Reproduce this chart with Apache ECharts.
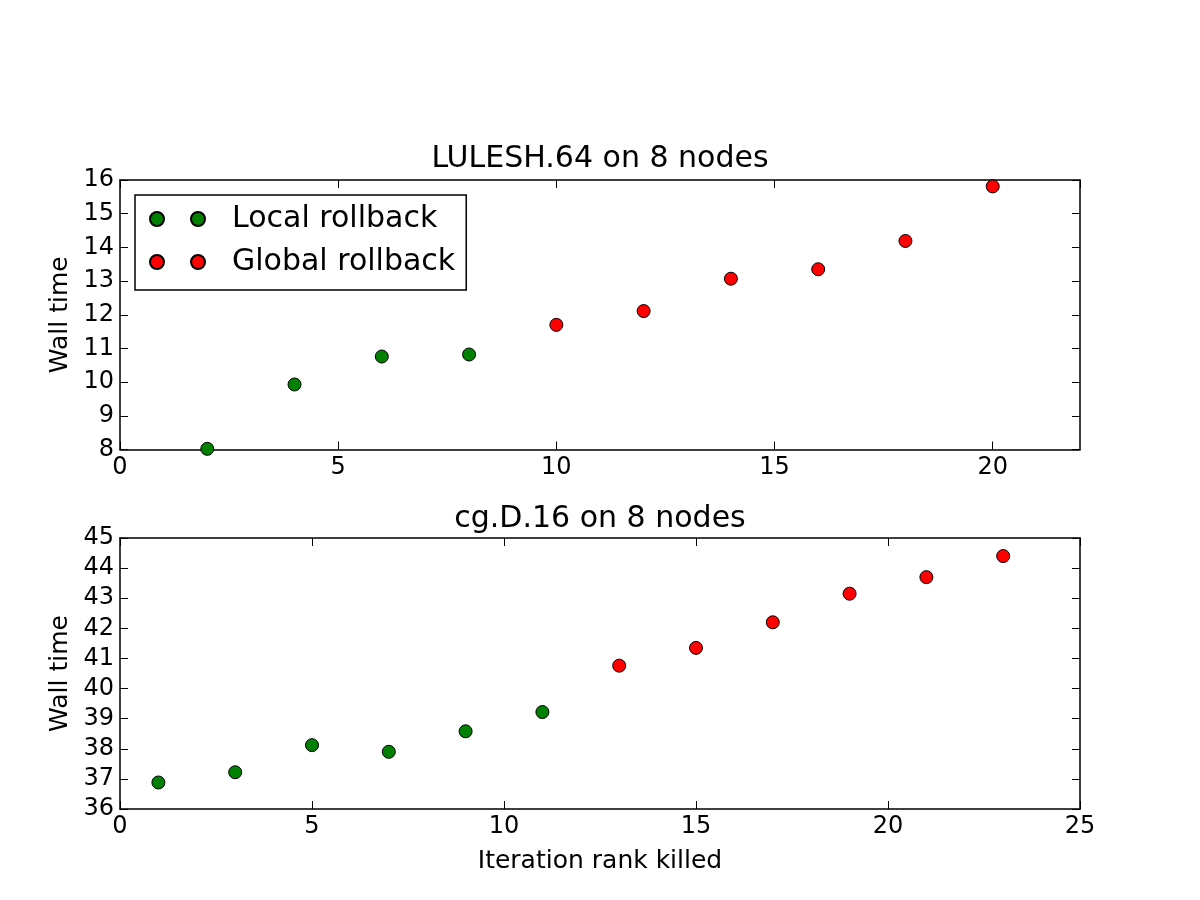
<!DOCTYPE html>
<html>
<head>
<meta charset="utf-8">
<script src="https://cdn.jsdelivr.net/npm/echarts@6/dist/echarts.min.js"></script>
<style>
  html, body { margin: 0; padding: 0; background: #fff; }
  #chart { width: 1200px; height: 900px; }
</style>
</head>
<body>
<div id="chart"></div>
<script>
// LULESH.64 on 8 nodes
var luleshLocalRank = [2, 4, 6, 8]
var luleshLocalTime = [8.02, 9.93, 10.76, 10.82]
var luleshGlobalRank = [10, 12, 14, 16, 18, 20]
var luleshGlobalTime = [11.70, 12.11, 13.07, 13.35, 14.19, 15.81]

// cg.D.16 on 8 nodes
var cgLocalRank = [1, 3, 5, 7, 9, 11]
var cgLocalTime = [36.88, 37.22, 38.12, 37.90, 38.58, 39.22]
var cgGlobalRank = [13, 15, 17, 19, 21, 23]
var cgGlobalTime = [40.76, 41.35, 42.20, 43.15, 43.70, 44.40]

var font = 'DejaVu Sans'

function pairs(xs, ys) {
  return xs.map(function (x, i) { return [x, ys[i]] })
}

function axis(opts, showLabel) {
  return Object.assign({
    type: 'value',
    axisLine: { show: true, onZero: false, lineStyle: { color: '#000', width: 1.5 } },
    axisTick: { show: true, inside: true, length: 8, lineStyle: { color: '#000', width: 1 } },
    axisLabel: { show: showLabel, color: '#000', fontFamily: font, fontSize: 24, margin: 6 },
    splitLine: { show: false }
  }, opts)
}

function scatter(name, xi, yi, data, color) {
  return {
    name: name,
    type: 'scatter',
    xAxisIndex: xi,
    yAxisIndex: yi,
    data: data,
    symbolSize: 13,
    itemStyle: { color: color, borderColor: '#000', borderWidth: 1, opacity: 1 },
    z: 5
  }
}

var nameStyle = { fontFamily: font, fontSize: 25, color: '#000' }
var titleStyle = { fontFamily: font, fontSize: 30, fontWeight: 'normal', color: '#000' }

// two markers per legend entry, like numpoints=2
var twoDots = 'path://M0,7a7,7 0 1,0 14,0a7,7 0 1,0 -14,0Z M41,7a7,7 0 1,0 14,0a7,7 0 1,0 -14,0Z'

var myChart = echarts.init(document.getElementById('chart'))
myChart.setOption({
  animation: false,
  backgroundColor: '#fff',
  title: [
    { text: 'LULESH.64 on 8 nodes', left: 'center', top: 139, textStyle: titleStyle },
    { text: 'cg.D.16 on 8 nodes', left: 'center', top: 499, textStyle: titleStyle }
  ],
  legend: {
    left: 135,
    top: 195,
    orient: 'vertical',
    padding: [9, 11, 13, 14],
    itemGap: 13,
    itemWidth: 55,
    itemHeight: 14,
    icon: twoDots,
    borderColor: '#000',
    borderWidth: 1.5,
    backgroundColor: '#fff',
    textStyle: { fontFamily: font, fontSize: 30, color: '#000', padding: [0, 0, 0, 22] },
    data: ['Local rollback', 'Global rollback']
  },
  grid: [
    { left: 120, top: 180, width: 960, height: 269.5 },
    { left: 120, top: 538, width: 960, height: 271 }
  ],
  xAxis: [
    axis({ gridIndex: 0, min: 0, max: 22, interval: 5, position: 'bottom' }, true),
    axis({ gridIndex: 0, min: 0, max: 22, interval: 5, position: 'top' }, false),
    axis({ gridIndex: 1, min: 0, max: 25, interval: 5, position: 'bottom',
      name: 'Iteration rank killed', nameLocation: 'middle', nameGap: 40, nameTextStyle: nameStyle }, true),
    axis({ gridIndex: 1, min: 0, max: 25, interval: 5, position: 'top' }, false)
  ],
  yAxis: [
    axis({ gridIndex: 0, min: 8, max: 16, interval: 1, position: 'left',
      name: 'Wall time', nameLocation: 'middle', nameGap: 46, nameTextStyle: nameStyle }, true),
    axis({ gridIndex: 0, min: 8, max: 16, interval: 1, position: 'right' }, false),
    axis({ gridIndex: 1, min: 36, max: 45, interval: 1, position: 'left',
      name: 'Wall time', nameLocation: 'middle', nameGap: 46, nameTextStyle: nameStyle }, true),
    axis({ gridIndex: 1, min: 36, max: 45, interval: 1, position: 'right' }, false)
  ],
  series: [
    scatter('Local rollback', 0, 0, pairs(luleshLocalRank, luleshLocalTime), '#008000'),
    scatter('Global rollback', 0, 0, pairs(luleshGlobalRank, luleshGlobalTime), '#ff0000'),
    scatter('Local rollback', 2, 2, pairs(cgLocalRank, cgLocalTime), '#008000'),
    scatter('Global rollback', 2, 2, pairs(cgGlobalRank, cgGlobalTime), '#ff0000')
  ]
})
// the 22 at the end of the top x axis has no label in the original
myChart.setOption({ xAxis: [{ axisLabel: { showMaxLabel: false } }] })
</script>
</body>
</html>
